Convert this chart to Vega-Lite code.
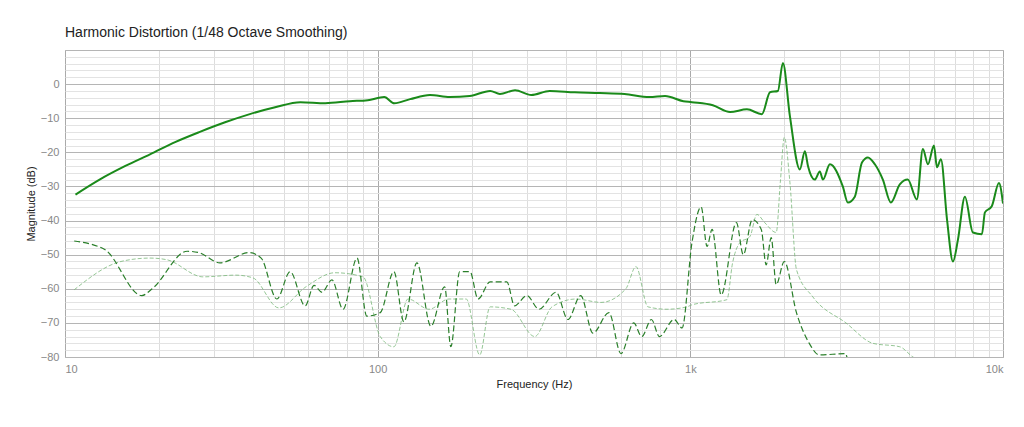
{
  "$schema": "https://vega.github.io/schema/vega-lite/v6.json",
  "width": 938,
  "height": 307,
  "autosize": "none",
  "padding": {"left": 65, "top": 50, "right": 21, "bottom": 70},
  "background": "white",
  "title": {"text": "Harmonic Distortion (1/48 Octave Smoothing)", "anchor": "start", "frame": "group", "font": "Liberation Sans", "fontSize": 14, "fontWeight": "normal", "color": "#222", "offset": 10},
  "config": {"view": {"stroke": "#bbb"}, "axis": {"labelFont": "Liberation Sans", "titleFont": "Liberation Sans", "labelColor": "#888", "labelFontSize": 11, "titleFontSize": 11, "titleFontWeight": "normal", "titleColor": "#222", "domain": false, "ticks": false}},
  "data": {"values": [
    {"s":"f","f":10.8,"db":-32.4},{"s":"f","f":12.9,"db":-28},{"s":"f","f":15.6,"db":-24},{"s":"f","f":18.7,"db":-20.6},{"s":"f","f":22.5,"db":-17},{"s":"f","f":27,"db":-14},{"s":"f","f":32.5,"db":-11.2},{"s":"f","f":39,"db":-8.8},{"s":"f","f":47,"db":-6.8},{"s":"f","f":56.6,"db":-5.3},{"s":"f","f":68,"db":-5.6},{"s":"f","f":81.5,"db":-5},{"s":"f","f":93,"db":-4.7},{"s":"f","f":105,"db":-3.8},{"s":"f","f":113,"db":-5.6},{"s":"f","f":127,"db":-4.4},{"s":"f","f":147,"db":-3.2},{"s":"f","f":170,"db":-3.8},{"s":"f","f":197,"db":-3.5},{"s":"f","f":229,"db":-2},{"s":"f","f":246,"db":-2.9},{"s":"f","f":275,"db":-1.8},{"s":"f","f":310,"db":-3.2},{"s":"f","f":355,"db":-2},{"s":"f","f":427,"db":-2.4},{"s":"f","f":513,"db":-2.6},{"s":"f","f":616,"db":-2.9},{"s":"f","f":740,"db":-3.8},{"s":"f","f":830,"db":-3.5},{"s":"f","f":950,"db":-5},{"s":"f","f":1012,"db":-5.3},{"s":"f","f":1180,"db":-6.2},{"s":"f","f":1340,"db":-8.2},{"s":"f","f":1517,"db":-7.4},{"s":"f","f":1694,"db":-8.8},{"s":"f","f":1798,"db":-2.4},{"s":"f","f":1906,"db":-2},{"s":"f","f":1977,"db":6.2},{"s":"f","f":2082,"db":-9.4},{"s":"f","f":2240,"db":-25},{"s":"f","f":2325,"db":-19.7},{"s":"f","f":2378,"db":-24},{"s":"f","f":2500,"db":-28},{"s":"f","f":2595,"db":-25.6},{"s":"f","f":2655,"db":-28},{"s":"f","f":2795,"db":-23.5},{"s":"f","f":3073,"db":-30},{"s":"f","f":3190,"db":-34.7},{"s":"f","f":3358,"db":-33},{"s":"f","f":3539,"db":-23},{"s":"f","f":3698,"db":-21.5},{"s":"f","f":3892,"db":-23.5},{"s":"f","f":4128,"db":-28},{"s":"f","f":4378,"db":-34.7},{"s":"f","f":4677,"db":-29.4},{"s":"f","f":4960,"db":-28},{"s":"f","f":5303,"db":-33.8},{"s":"f","f":5543,"db":-19},{"s":"f","f":5754,"db":-23.5},{"s":"f","f":6013,"db":-18},{"s":"f","f":6149,"db":-24.4},{"s":"f","f":6330,"db":-22},{"s":"f","f":6622,"db":-39.7},{"s":"f","f":6918,"db":-52},{"s":"f","f":7177,"db":-45.6},{"s":"f","f":7555,"db":-33},{"s":"f","f":8011,"db":-43.5},{"s":"f","f":8562,"db":-44},{"s":"f","f":8754,"db":-37.6},{"s":"f","f":9207,"db":-35.8},{"s":"f","f":9706,"db":-29},{"s":"f","f":10000,"db":-35},
    {"s":"h2","f":10.7,"db":-46},{"s":"h2","f":13.4,"db":-48.5},{"s":"h2","f":17.6,"db":-62},{"s":"h2","f":19,"db":-60},{"s":"h2","f":24.6,"db":-49},{"s":"h2","f":26.8,"db":-49.4},{"s":"h2","f":31.3,"db":-52.4},{"s":"h2","f":38.8,"db":-49.4},{"s":"h2","f":42.4,"db":-51},{"s":"h2","f":47.6,"db":-63},{"s":"h2","f":52.5,"db":-55},{"s":"h2","f":58.6,"db":-65},{"s":"h2","f":62.6,"db":-59},{"s":"h2","f":66.4,"db":-61},{"s":"h2","f":71.4,"db":-57.4},{"s":"h2","f":77.5,"db":-66},{"s":"h2","f":85.9,"db":-51},{"s":"h2","f":92.3,"db":-68},{"s":"h2","f":101.9,"db":-67},{"s":"h2","f":112.7,"db":-55},{"s":"h2","f":121.3,"db":-69.7},{"s":"h2","f":133.5,"db":-52.4},{"s":"h2","f":148,"db":-71},{"s":"h2","f":163.8,"db":-59.4},{"s":"h2","f":171.4,"db":-77},{"s":"h2","f":183,"db":-55},{"s":"h2","f":197.4,"db":-55},{"s":"h2","f":209.4,"db":-63},{"s":"h2","f":228.9,"db":-58},{"s":"h2","f":259,"db":-58},{"s":"h2","f":274,"db":-65},{"s":"h2","f":300,"db":-62},{"s":"h2","f":328,"db":-66},{"s":"h2","f":372,"db":-61},{"s":"h2","f":406,"db":-69},{"s":"h2","f":446,"db":-62},{"s":"h2","f":488,"db":-73},{"s":"h2","f":549,"db":-67},{"s":"h2","f":600,"db":-79},{"s":"h2","f":659,"db":-70},{"s":"h2","f":699,"db":-74},{"s":"h2","f":751,"db":-69},{"s":"h2","f":796,"db":-74},{"s":"h2","f":888,"db":-69},{"s":"h2","f":941,"db":-71.5},{"s":"h2","f":1012,"db":-46.5},{"s":"h2","f":1083,"db":-36},{"s":"h2","f":1131,"db":-47.6},{"s":"h2","f":1174,"db":-42.6},{"s":"h2","f":1255,"db":-61.8},{"s":"h2","f":1404,"db":-40.6},{"s":"h2","f":1477,"db":-50},{"s":"h2","f":1578,"db":-39.7},{"s":"h2","f":1686,"db":-42.6},{"s":"h2","f":1748,"db":-53},{"s":"h2","f":1814,"db":-45},{"s":"h2","f":1882,"db":-58.8},{"s":"h2","f":1998,"db":-52},{"s":"h2","f":2185,"db":-67},{"s":"h2","f":2401,"db":-76},{"s":"h2","f":2586,"db":-79.4},{"s":"h2","f":3145,"db":-79},{"s":"h2","f":3168,"db":-80},{"s":"h2","f":3740,"db":-84},
    {"s":"h3","f":10.7,"db":-60.3},{"s":"h3","f":15.1,"db":-52},{"s":"h3","f":18.7,"db":-51},{"s":"h3","f":21.2,"db":-51.5},{"s":"h3","f":27.6,"db":-56.5},{"s":"h3","f":35.2,"db":-56},{"s":"h3","f":39.9,"db":-56.8},{"s":"h3","f":48.3,"db":-65.6},{"s":"h3","f":59,"db":-59.4},{"s":"h3","f":73,"db":-55.3},{"s":"h3","f":89.8,"db":-56.5},{"s":"h3","f":101.9,"db":-74},{"s":"h3","f":112.7,"db":-77},{"s":"h3","f":125,"db":-63},{"s":"h3","f":146,"db":-66},{"s":"h3","f":169,"db":-63},{"s":"h3","f":192,"db":-63},{"s":"h3","f":212,"db":-79.4},{"s":"h3","f":228.9,"db":-65.3},{"s":"h3","f":267,"db":-66},{"s":"h3","f":318,"db":-74},{"s":"h3","f":361,"db":-65.3},{"s":"h3","f":431,"db":-63},{"s":"h3","f":518,"db":-64},{"s":"h3","f":622,"db":-60},{"s":"h3","f":670,"db":-53.5},{"s":"h3","f":732,"db":-65.3},{"s":"h3","f":842,"db":-66},{"s":"h3","f":975,"db":-65.3},{"s":"h3","f":1012,"db":-64.7},{"s":"h3","f":1309,"db":-63.2},{"s":"h3","f":1365,"db":-52.4},{"s":"h3","f":1440,"db":-46.5},{"s":"h3","f":1550,"db":-44.7},{"s":"h3","f":1633,"db":-38.2},{"s":"h3","f":1729,"db":-40.6},{"s":"h3","f":1882,"db":-43.5},{"s":"h3","f":1940,"db":-28.8},{"s":"h3","f":1998,"db":-15.6},{"s":"h3","f":2082,"db":-28.8},{"s":"h3","f":2185,"db":-54.4},{"s":"h3","f":2466,"db":-62.4},{"s":"h3","f":3145,"db":-70},{"s":"h3","f":3840,"db":-76},{"s":"h3","f":4677,"db":-77},{"s":"h3","f":5152,"db":-80},{"s":"h3","f":5850,"db":-82}
  ]},
  "encoding": {
    "x": {"field": "f", "type": "quantitative", "scale": {"type": "log", "domain": [10, 10000]},
      "title": "Frequency (Hz)", "titlePadding": 22,
      "axis": {"values": [10,20,30,40,50,60,70,80,90,100,200,300,400,500,600,700,800,900,1000,2000,3000,4000,5000,6000,7000,8000,9000,10000],
        "labelExpr": "datum.value==10?'10':datum.value==100?'100':datum.value==1000?'1k':datum.value==10000?'10k':''",
        "gridColor": {"condition": {"test": "datum.value==10||datum.value==100||datum.value==1000||datum.value==10000", "value": "#aaaaaa"}, "value": "#dddddd"},
        "labelPadding": 6}},
    "y": {"field": "db", "type": "quantitative", "scale": {"domain": [-80, 10]},
      "title": "Magnitude (dB)", "titlePadding": 12,
      "axis": {"values": [-80,-78,-76,-74,-72,-70,-68,-66,-64,-62,-60,-58,-56,-54,-52,-50,-48,-46,-44,-42,-40,-38,-36,-34,-32,-30,-28,-26,-24,-22,-20,-18,-16,-14,-12,-10,-8,-6,-4,-2,0,2,4,6,8,10],
        "labelExpr": "datum.value%10==0 && datum.value<=0 ? datum.label : ''",
        "gridColor": {"condition": {"test": "datum.value%10==0", "value": "#b5b5b5"}, "value": "#e3e3e3"},
        "labelPadding": 6}}
  },
  "layer": [
    {"transform": [{"filter": "datum.s=='h3'"}], "mark": {"type": "line", "clip": true, "interpolate": "monotone", "color": "#7ab87a", "strokeWidth": 0.8, "strokeDash": [4, 2]}},
    {"transform": [{"filter": "datum.s=='h2'"}], "mark": {"type": "line", "clip": true, "interpolate": "monotone", "color": "#2a7f2a", "strokeWidth": 1.2, "strokeDash": [6, 3]}},
    {"transform": [{"filter": "datum.s=='f'"}], "mark": {"type": "line", "clip": true, "interpolate": "monotone", "color": "#1a8a1a", "strokeWidth": 2}}
  ]
}
